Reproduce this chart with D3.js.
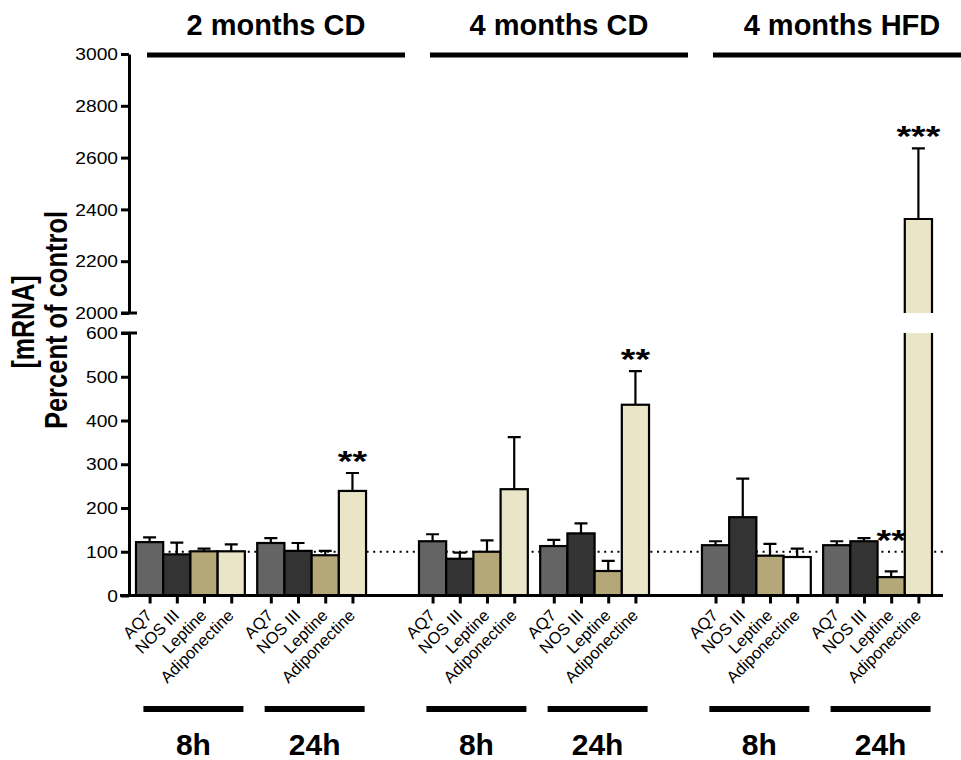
<!DOCTYPE html>
<html><head><meta charset="utf-8">
<script src="https://cdn.jsdelivr.net/npm/d3@7"></script>
<style>
body{margin:0;background:#fff;}
text{font-family:"Liberation Sans",Arial,Helvetica,sans-serif;fill:#000;}
</style></head><body>
<svg id="chart" width="961" height="760"></svg>
<script>
// ---------- data ----------
const conditions = ["2 months CD", "4 months CD", "4 months HFD"];
const times = ["8h", "24h"];
const genes = ["AQ7", "NOS III", "Leptine", "Adiponectine"];
// mean mRNA (% of control); one row per condition x time, columns in gene order
const means = [
  [122, 94, 101, 101],
  [120, 102, 92, 239],
  [124, 84, 100, 243],
  [113, 142, 56, 436],
  [115, 179, 91, 88],
  [115, 124, 42, 2363]
];
// upper error (SEM)
const sems = [
  [11, 27, 6, 16],
  [11, 18, 10, 41],
  [16, 14, 26, 119],
  [14, 23, 23, 77],
  [9, 88, 27, 19],
  [9, 7, 13, 273]
];
const geneColors = ["#646464", "#333333", "#b4a878", "#ebe5c8"];
const whiteBars = [["4 months HFD", "8h", "Adiponectine"]];
const significance = [
  ["2 months CD", "24h", "Adiponectine", "**"],
  ["4 months CD", "24h", "Adiponectine", "**"],
  ["4 months HFD", "24h", "Leptine", "**"],
  ["4 months HFD", "24h", "Adiponectine", "***"]
];
const lowTicks = [0, 100, 200, 300, 400, 500, 600];
const highTicks = [2000, 2200, 2400, 2600, 2800, 3000];
const lowDomain = [0, 600];
const highDomain = [2000, 3000];
const referenceLevel = 100;
const yTitle = ["[mRNA]", "Percent of control"];

// ---------- layout ----------
const svg = d3.select("#chart");
const axisX = 129, axisRight = 943;
const plotL = 136, plotR = 932;
const yLow = d3.scaleLinear().domain(lowDomain).range([595.5, 333]);
const yHigh = d3.scaleLinear().domain(highDomain).range([313, 54]);
const xCond = d3.scaleBand().domain(conditions).range([plotL, plotR]).paddingInner(0.187);
const xTime = d3.scaleBand().domain(times).range([0, xCond.bandwidth()]).paddingInner(0.102);
const xGene = d3.scaleBand().domain(genes).range([0, xTime.bandwidth()]);
const color = d3.scaleOrdinal().domain(genes).range(geneColors);
const tsx = 1.2; // horizontal stretch of small text

const records = [];
conditions.forEach((c, ci) => times.forEach((t, ti) => genes.forEach((g, gi) => {
  const row = ci * times.length + ti;
  const isWhite = whiteBars.some(w => w[0] === c && w[1] === t && w[2] === g);
  records.push({c, t, g, key: c + "|" + t + "|" + g,
    x: xCond(c) + xTime(t) + xGene(g), w: xGene.bandwidth(),
    v: means[row][gi], e: sems[row][gi], fill: isWhite ? "#ffffff" : color(g)});
})));
const yv = v => v <= lowDomain[1] ? yLow(v) : yHigh(v);

// reference dotted line (behind bars)
svg.append("line").attr("x1", axisX).attr("x2", axisRight)
  .attr("y1", yLow(referenceLevel)).attr("y2", yLow(referenceLevel))
  .attr("stroke", "#000").attr("stroke-width", 2).attr("stroke-dasharray", "2,4.6");

// bars
const bars = svg.append("g");
records.forEach(d => {
  if (d.v <= lowDomain[1]) {
    bars.append("rect").attr("x", d.x).attr("y", yLow(d.v)).attr("width", d.w)
      .attr("height", yLow(0) - yLow(d.v)).attr("fill", d.fill)
      .attr("stroke", "#000").attr("stroke-width", 2.2);
  } else {
    bars.append("rect").attr("x", d.x).attr("y", yLow(lowDomain[1])).attr("width", d.w)
      .attr("height", yLow(0) - yLow(lowDomain[1])).attr("fill", d.fill);
    bars.append("path").attr("d", `M${d.x},${yLow(lowDomain[1])}V${yLow(0)}M${d.x + d.w},${yLow(lowDomain[1])}V${yLow(0)}`)
      .attr("stroke", "#000").attr("stroke-width", 2.2).attr("fill", "none");
    bars.append("rect").attr("x", d.x).attr("y", yHigh(d.v)).attr("width", d.w)
      .attr("height", yHigh(highDomain[0]) - yHigh(d.v)).attr("fill", d.fill);
    bars.append("path").attr("d", `M${d.x},${yHigh(highDomain[0])}V${yHigh(d.v)}H${d.x + d.w}V${yHigh(highDomain[0])}`)
      .attr("stroke", "#000").attr("stroke-width", 2.2).attr("fill", "none");
  }
  // error bar (upper only)
  const cx = d.x + d.w / 2, top = yv(d.v), cap = yv(d.v + d.e);
  bars.append("path").attr("d", `M${cx},${top}V${cap}M${cx - 6.5},${cap}H${cx + 6.5}`)
    .attr("stroke", "#000").attr("stroke-width", 2.2).attr("fill", "none");
});

// significance stars
significance.forEach(s => {
  const d = records.find(r => r.c === s[0] && r.t === s[1] && r.g === s[2]);
  const cap = yv(d.v + d.e);
  const base = Math.min(cap, yLow(referenceLevel)) - 2;
  svg.append("text").attr("transform", `translate(${d.x + d.w / 2},${base}) scale(1.25,1)`)
    .attr("text-anchor", "middle").style("font-size", "30px").style("font-weight", "bold").text(s[3]);
});

// y axes (broken)
function styleY(g) {
  g.select(".domain").attr("stroke-width", 3);
  g.selectAll(".tick line").attr("stroke-width", 3);
  g.selectAll(".tick text").attr("x", 0).attr("dy", "0.35em")
    .attr("transform", `translate(-11,0) scale(${tsx},1)`)
    .style("font-size", "16px").style("font-family", '"Liberation Sans",Arial,sans-serif');
}
svg.append("g").attr("transform", `translate(${axisX},0)`)
  .call(d3.axisLeft(yLow).tickValues(lowTicks).tickSize(8).tickSizeOuter(0).tickFormat(d3.format("d")))
  .call(styleY);
svg.append("g").attr("transform", `translate(${axisX},0)`)
  .call(d3.axisLeft(yHigh).tickValues(highTicks).tickSize(8).tickSizeOuter(0).tickFormat(d3.format("d")))
  .call(styleY);
// break caps
[yLow(lowDomain[1]), yHigh(highDomain[0])].forEach(y => {
  svg.append("line").attr("x1", axisX - 8).attr("x2", axisX + 8).attr("y1", y).attr("y2", y)
    .attr("stroke", "#000").attr("stroke-width", 3);
});

// x axis
const xPos = d3.scaleOrdinal().domain(records.map(r => r.key)).range(records.map(r => r.x + r.w / 2));
const xAxisG = svg.append("g").attr("transform", `translate(0,${yLow(0)})`)
  .call(d3.axisBottom(xPos).tickSize(8).tickFormat(k => k.split("|")[2]));
xAxisG.select(".domain").remove();
xAxisG.selectAll(".tick line").attr("stroke-width", 3);
xAxisG.selectAll(".tick text").attr("x", 0).attr("y", 0).attr("dy", 0)
  .attr("transform", "translate(3,21) rotate(-45)").style("text-anchor", "end")
  .style("font-size", "16.5px").style("font-family", '"Liberation Sans",Arial,sans-serif');
svg.append("line").attr("x1", axisX - 9).attr("x2", axisRight).attr("y1", yLow(0)).attr("y2", yLow(0))
  .attr("stroke", "#000").attr("stroke-width", 3);

// condition headers
conditions.forEach(c => {
  const cx = xCond(c) + xCond.bandwidth() / 2 + 25;
  svg.append("line").attr("x1", cx - 129).attr("x2", cx + 129).attr("y1", 55).attr("y2", 55)
    .attr("stroke", "#000").attr("stroke-width", 5);
  svg.append("text").attr("x", cx).attr("y", 35).attr("text-anchor", "middle")
    .style("font-size", "29px").style("font-weight", "bold").text(c);
});

// time labels
conditions.forEach(c => times.forEach(t => {
  const cx = xCond(c) + xTime(t) + xTime.bandwidth() / 2 + 3;
  svg.append("line").attr("x1", cx - 50).attr("x2", cx + 50).attr("y1", 709).attr("y2", 709)
    .attr("stroke", "#000").attr("stroke-width", 6);
  svg.append("text").attr("x", cx).attr("y", 755).attr("text-anchor", "middle")
    .style("font-size", "30px").style("font-weight", "bold").text(t);
}));

// y title
svg.append("text").attr("transform", "translate(34,322) scale(1.25,1) rotate(-90)")
  .attr("text-anchor", "middle").style("font-size", "25px").style("font-weight", "bold").text(yTitle[0]);
svg.append("text").attr("transform", "translate(67,320) scale(1.25,1) rotate(-90)")
  .attr("text-anchor", "middle").style("font-size", "25.5px").style("font-weight", "bold").text(yTitle[1]);
</script>
</body></html>
